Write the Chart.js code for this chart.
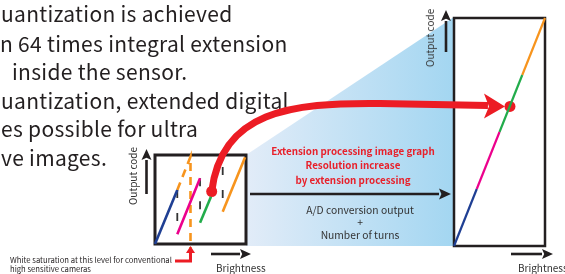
<!DOCTYPE html>
<html>
<head>
<meta charset="utf-8">
<script src="https://cdn.jsdelivr.net/npm/chart.js@4.4.0/dist/chart.umd.min.js"></script>
<style>
html, body { margin: 0; padding: 0; background: #fff; }
#page { position: relative; width: 565px; height: 274px; overflow: hidden; font-family: "Noto Sans CJK JP", "Noto Sans", sans-serif; }
canvas { position: absolute; }
.t { position: absolute; white-space: nowrap; line-height: 1; }
.lead { font-size: 21px; letter-spacing: 0.3px; color: #231f20; transform: translateY(-50%); }
.red { color: #e8202a; font-size: 9.8px; font-weight: bold; transform: translate(-50%, -50%); }
.sub { color: #333; font-size: 10.3px; transform: translate(-50%, -50%); }
.axis { color: #333; font-size: 10px; }
.vert { transform: translate(-50%, -50%) rotate(-90deg); }
.note { color: #231f20; font-size: 7.7px; }
</style>
</head>
<body>
<div id="page">
  <canvas id="bg" width="565" height="274" style="left:0;top:0;z-index:0"></canvas>

  <div class="t lead" style="left:1px;top:13px">uantization is achieved</div>
  <div class="t lead" style="left:0px;top:43px">n 64 times integral extension</div>
  <div class="t lead" style="left:12px;top:71px">inside the sensor.</div>
  <div class="t lead" style="left:1px;top:100px">uantization, extended digital</div>
  <div class="t lead" style="left:1px;top:128px">es possible for ultra</div>
  <div class="t lead" style="left:1px;top:157px">ve images.</div>

  <div class="t red" style="left:353px;top:152px">Extension processing image graph</div>
  <div class="t red" style="left:353px;top:166px">Resolution increase</div>
  <div class="t red" style="left:353px;top:181px">by extension processing</div>

  <div class="t sub" style="left:360px;top:210px">A/D conversion output</div>
  <div class="t sub" style="left:360px;top:222px">+</div>
  <div class="t sub" style="left:360px;top:235px">Number of turns</div>

  <div class="t axis vert" style="left:133px;top:176px">Output code</div>
  <div class="t axis vert" style="left:430px;top:38px">Output code</div>
  <div class="t axis" style="left:216px;top:263px">Brightness</div>
  <div class="t axis" style="left:518px;top:263px">Brightness</div>

  <div class="t note" style="left:10px;top:256px">White saturation at this level for conventional</div>
  <div class="t note" style="left:10px;top:265px">high sensitive cameras</div>

  <canvas id="small" width="111" height="109" style="left:145px;top:145px;z-index:2"></canvas>
  <canvas id="big" width="111" height="248" style="left:444px;top:8px;z-index:2"></canvas>
  <canvas id="over" width="565" height="274" style="left:0;top:0;z-index:3"></canvas>
</div>

<script>
// small graph: brightness (x) vs output code (y), box is 0..1 on both
var turnStartX = [0, 0.245, 0.495, 0.744];
var turnStartY = [0, 0.11, 0.24, 0.363];
var turnEndX = [0.245, 0.495, 0.615, 0.99];
var turnEndY = [0.607, 0.74, 0.53, 0.975];
var turnColors = ['#1f3f93', '#ec008c', '#22ac4b', '#f7941d'];

// dashed "wrap" lines where the count turns over
var wrapX = [0.245, 0.495, 0.744];
var wrapTopY = [0.607, 0.74, 0.865];

// conventional camera: saturates and drops
var satX = [0.245, 0.39, 0.39];
var satY = [0.607, 0.98, -0.07];

var smallDot = [0.623, 0.59];

// big graph: one straight ramp split into the four turns
var bigBreaks = [0, 0.25, 0.5, 0.75, 1];
var bigDot = [0.615, 0.612];

var RED = '#ec1c24';

var frame = {
  id: 'frame',
  beforeDatasetsDraw: function(chart, args, opts) {
    var a = chart.chartArea, ctx = chart.ctx;
    ctx.save();
    ctx.lineWidth = opts.width;
    ctx.strokeStyle = '#231f20';
    ctx.strokeRect(a.left, a.top, a.right - a.left, a.bottom - a.top);
    ctx.restore();
  }
};

function baseOptions(w) {
  return {
    responsive: false,
    animation: false,
    events: [],
    layout: { padding: 10 },
    plugins: { legend: { display: false }, tooltip: { enabled: false }, frame: { width: w } },
    scales: {
      x: { type: 'linear', min: 0, max: 1, display: false },
      y: { type: 'linear', min: 0, max: 1, display: false }
    }
  };
}

function seg(pts, color, width, dash) {
  return {
    data: pts, borderColor: color, borderWidth: width, borderDash: dash || [],
    pointRadius: 0, showLine: true, clip: false, fill: false
  };
}

var smallSets = [];
for (var i = 0; i < turnStartX.length; i++) {
  smallSets.push(seg([{x: turnStartX[i], y: turnStartY[i]}, {x: turnEndX[i], y: turnEndY[i]}], turnColors[i], 2.6));
}
for (var j = 0; j < wrapX.length; j++) {
  smallSets.push(seg([{x: wrapX[j], y: wrapTopY[j]}, {x: wrapX[j], y: turnStartY[j + 1]}], '#333', 1.8, [8, 15]));
}
smallSets.push(seg(satX.map(function(v, k) { return {x: v, y: satY[k]}; }), '#f7941d', 2.6, [8, 6]));
smallSets.push({
  data: [{x: smallDot[0], y: smallDot[1]}], showLine: false, clip: false,
  pointRadius: 5.5, pointBackgroundColor: RED, pointBorderWidth: 0
});

var bigSets = [];
for (var b = 0; b < bigBreaks.length - 1; b++) {
  bigSets.push(seg([{x: bigBreaks[b], y: bigBreaks[b]}, {x: bigBreaks[b + 1], y: bigBreaks[b + 1]}], turnColors[b], 2.2));
}
bigSets.push({
  data: [{x: bigDot[0], y: bigDot[1]}], showLine: false, clip: false,
  pointRadius: 5.5, pointBackgroundColor: RED, pointBorderWidth: 0
});

var smallChart = new Chart(document.getElementById('small'), {
  type: 'line', data: { datasets: smallSets }, options: baseOptions(3), plugins: [frame]
});
var bigChart = new Chart(document.getElementById('big'), {
  type: 'line', data: { datasets: bigSets }, options: baseOptions(2.5), plugins: [frame]
});

// page position of a value on one of the charts
function pagePt(chart, x, y) {
  var c = chart.canvas;
  return [c.offsetLeft + chart.scales.x.getPixelForValue(x), c.offsetTop + chart.scales.y.getPixelForValue(y)];
}

function arrow(ctx, x1, y1, x2, y2, color, w, head, half) {
  var ang = Math.atan2(y2 - y1, x2 - x1);
  var bx = x2 - Math.cos(ang) * head, by = y2 - Math.sin(ang) * head;
  ctx.strokeStyle = color; ctx.fillStyle = color; ctx.lineWidth = w;
  ctx.beginPath(); ctx.moveTo(x1, y1); ctx.lineTo(bx, by); ctx.stroke();
  ctx.beginPath();
  ctx.moveTo(x2, y2);
  ctx.lineTo(bx - Math.sin(ang) * half, by + Math.cos(ang) * half);
  ctx.lineTo(x2 - Math.cos(ang) * head * 0.8, y2 - Math.sin(ang) * head * 0.8);
  ctx.lineTo(bx + Math.sin(ang) * half, by - Math.cos(ang) * half);
  ctx.closePath(); ctx.fill();
}

// background: light blue wedge between the two graphs and the black arrows
(function() {
  var ctx = document.getElementById('bg').getContext('2d');
  var sa = smallChart.chartArea, so = smallChart.canvas;
  var ba = bigChart.chartArea, bo = bigChart.canvas;
  var x0 = so.offsetLeft + sa.right, y0 = so.offsetTop + sa.top;
  var x1 = bo.offsetLeft + ba.left, y1 = bo.offsetTop + ba.top, y2 = bo.offsetTop + ba.bottom;
  var g = ctx.createLinearGradient(x0, 0, x1, 0);
  g.addColorStop(0, '#e2ecf8');
  g.addColorStop(1, '#a3d6f1');
  ctx.fillStyle = g;
  ctx.beginPath();
  ctx.moveTo(x0, y0); ctx.lineTo(x1, y1 - 1); ctx.lineTo(x1, y2); ctx.lineTo(x0, y2);
  ctx.closePath(); ctx.fill();

  arrow(ctx, 250, 194, 451, 194, '#231f20', 2.4, 12, 5.5);
  arrow(ctx, 146.5, 194, 146.5, 149, '#231f20', 2.6, 11, 5);
  arrow(ctx, 446, 52, 446, 10, '#231f20', 2.6, 11, 5);
  arrow(ctx, 211, 254, 251, 254, '#231f20', 2.6, 11, 5);
  arrow(ctx, 511, 254, 553, 254, '#231f20', 2.6, 11, 5);
})();

// overlay: red arc from the small graph point to the big graph point
(function() {
  var ctx = document.getElementById('over').getContext('2d');
  var p = pagePt(smallChart, smallDot[0], smallDot[1]);
  var q = pagePt(bigChart, bigDot[0], bigDot[1]);
  ctx.strokeStyle = RED; ctx.lineWidth = 7; ctx.lineCap = 'butt';
  ctx.beginPath();
  ctx.moveTo(p[0], p[1]);
  ctx.bezierCurveTo(p[0] + 10, p[1] - 80, 290, q[1] - 4, 380, q[1] - 3);
  ctx.lineTo(q[0] - 22, q[1] - 1);
  ctx.stroke();
  ctx.fillStyle = RED;
  ctx.beginPath();
  ctx.moveTo(q[0] - 5, q[1]);
  ctx.lineTo(q[0] - 26, q[1] - 13);
  ctx.lineTo(q[0] - 21, q[1]);
  ctx.lineTo(q[0] - 26, q[1] + 12);
  ctx.closePath(); ctx.fill();

  // red pointer for the saturation note
  var sx = pagePt(smallChart, satX[1], 0)[0];
  ctx.lineWidth = 3;
  ctx.beginPath(); ctx.moveTo(175, 261); ctx.lineTo(sx, 261); ctx.lineTo(sx, 252); ctx.stroke();
  ctx.beginPath(); ctx.moveTo(sx, 246); ctx.lineTo(sx - 4.5, 253); ctx.lineTo(sx + 4.5, 253); ctx.closePath(); ctx.fill();
})();
</script>
</body>
</html>
